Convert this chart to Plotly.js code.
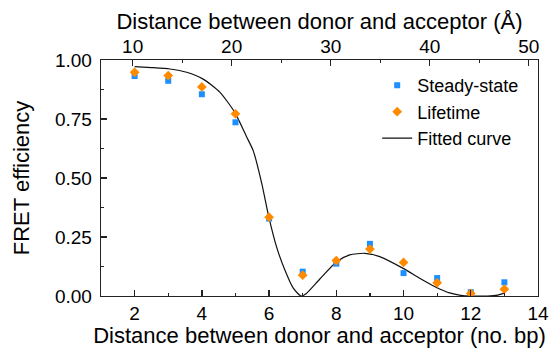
<!DOCTYPE html>
<html>
<head>
<meta charset="utf-8">
<script src="https://cdn.plot.ly/plotly-3.0.1.min.js"></script>
<style>html,body{margin:0;padding:0;background:#fff;}#chart{width:549px;height:348px;}</style>
</head>
<body>
<div id="chart"></div>
<script>
// Distance in base pairs
const basePairs = [2, 3, 4, 5, 6, 7, 8, 9, 10, 11, 12, 13];
// FRET efficiency, steady-state measurement
const steadyState = [0.932, 0.912, 0.855, 0.736, 0.328, 0.103, 0.137, 0.221, 0.097, 0.076, 0.016, 0.058];
// FRET efficiency, lifetime measurement
const lifetime = [0.948, 0.934, 0.886, 0.772, 0.334, 0.088, 0.150, 0.199, 0.142, 0.056, 0.011, 0.029];
// Fitted curve
const fitBp = [2.0, 2.5, 3.05, 3.55, 4.04, 4.54, 4.98, 5.33, 5.53, 5.78, 5.99, 6.22, 6.47, 6.72, 6.95, 7.11, 7.51, 8.01, 8.40, 8.85, 9.29, 9.99, 10.48, 10.95, 11.37, 11.7, 12.0, 12.5, 12.8, 13.0];
const fitEff = [0.972, 0.968, 0.962, 0.948, 0.919, 0.863, 0.778, 0.675, 0.615, 0.478, 0.336, 0.209, 0.110, 0.033, 0.0, 0.011, 0.072, 0.145, 0.174, 0.181, 0.167, 0.117, 0.075, 0.038, 0.013, 0.003, 0.0, 0.0, 0.004, 0.012];
// Axis ranges and ticks
const bpRange = [1, 14];
const angstromRange = [6.8, 50.94];
const effTicks = [0, 0.25, 0.5, 0.75, 1.0];

const font = 'Liberation Sans, Arial, sans-serif';
const axisColor = '#222';

const traces = [
  {x: fitBp, y: fitEff, type: 'scatter', mode: 'lines', name: 'Fitted curve',
   line: {color: '#111', width: 1.2, shape: 'spline', smoothing: 0.6}, legendrank: 3},
  {x: basePairs, y: steadyState, type: 'scatter', mode: 'markers', name: 'Steady-state',
   marker: {symbol: 'square', size: 6, color: '#1E8FFF'}, legendrank: 1},
  {x: basePairs, y: lifetime, type: 'scatter', mode: 'markers', name: 'Lifetime',
   marker: {symbol: 'diamond', size: 7.5, color: '#FF8A00'}, legendrank: 2},
  // empty trace so the top (Å) axis is drawn
  {x: [], y: [], xaxis: 'x2', yaxis: 'y', type: 'scatter', mode: 'markers', showlegend: false, hoverinfo: 'skip'}
];

const layout = {
  width: 549, height: 348,
  margin: {l: 101, r: 11, t: 60, b: 52},
  paper_bgcolor: '#fff', plot_bgcolor: '#fff',
  font: {family: font, size: 19, color: '#000'},
  showlegend: true,
  legend: {x: 0.632, y: 0.97, xanchor: 'left', yanchor: 'top', bgcolor: 'rgba(0,0,0,0)',
           font: {family: font, size: 18, color: '#000'}, tracegroupgap: 0},
  xaxis: {
    range: bpRange, dtick: 2, tick0: 0, showgrid: false, zeroline: false,
    showline: true, linecolor: axisColor, linewidth: 1.3,
    ticks: 'inside', ticklen: 6, tickwidth: 1.3, tickcolor: axisColor,
    minor: {dtick: 1, ticks: 'inside', ticklen: 3, tickwidth: 1.3, tickcolor: axisColor, showgrid: false},
    tickfont: {family: font, size: 19, color: '#000'},
    title: {text: 'Distance between donor and acceptor (no. bp)', font: {family: font, size: 22, color: '#000'}, standoff: 7}
  },
  xaxis2: {
    overlaying: 'x', side: 'top', anchor: 'y',
    range: angstromRange, dtick: 10, tick0: 0, showgrid: false, zeroline: false,
    showline: true, linecolor: axisColor, linewidth: 1.3,
    ticks: 'inside', ticklen: 6, tickwidth: 1.3, tickcolor: axisColor, ticklabelstandoff: -2,
    minor: {dtick: 5, ticks: 'inside', ticklen: 3, tickwidth: 1.3, tickcolor: axisColor, showgrid: false},
    tickfont: {family: font, size: 19, color: '#000'},
    title: {text: 'Distance between donor and acceptor (Å)', font: {family: font, size: 22, color: '#000'}, standoff: 0}
  },
  yaxis: {
    range: [0, 1], tickvals: effTicks, tickformat: '.2f', showgrid: false, zeroline: false,
    showline: true, mirror: true, linecolor: axisColor, linewidth: 1.3,
    ticks: 'inside', ticklen: 6, tickwidth: 1.3, tickcolor: axisColor, ticklabelstandoff: 4,
    minor: {dtick: 0.125, tick0: 0, ticks: 'inside', ticklen: 3, tickwidth: 1.3, tickcolor: axisColor, showgrid: false},
    tickfont: {family: font, size: 19, color: '#000'},
    title: {text: 'FRET efficiency', font: {family: font, size: 22, color: '#000'}, standoff: 19}
  }
};

Plotly.newPlot('chart', traces, layout, {displayModeBar: false, staticPlot: true});
</script>
</body>
</html>
